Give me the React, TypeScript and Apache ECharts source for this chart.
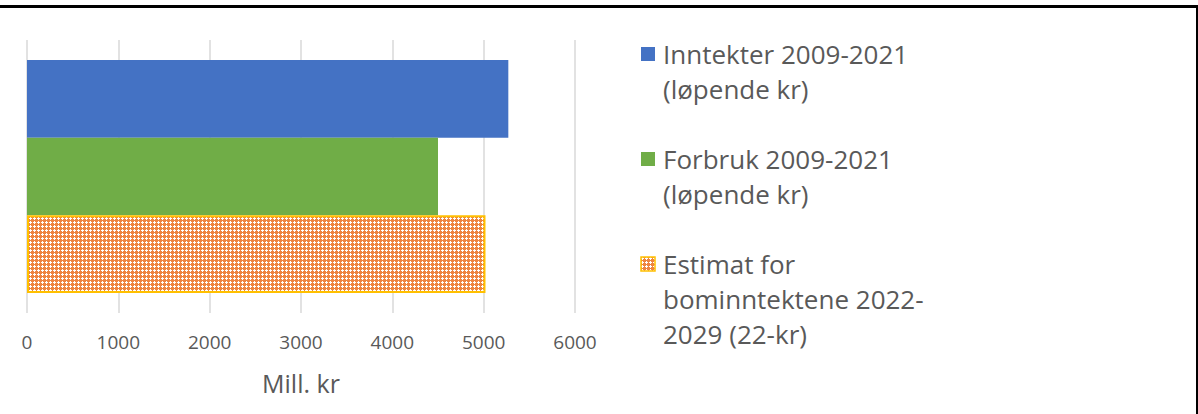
import React, { useEffect, useRef } from "react";
import * as echarts from "echarts";

const categories = ["Bompenger"];
const seriesNames = [
  "Inntekter 2009-2021\n(løpende kr)",
  "Forbruk 2009-2021\n(løpende kr)",
  "Estimat for\nbominntektene 2022-\n2029 (22-kr)",
];
const inntekter = [5270];
const forbruk = [4500];
const estimat = [5020];
const xTicks = { min: 0, max: 6000, interval: 1000 };
const xAxisName = "Mill. kr";

const FONT = "'Open Sans', 'Noto Sans', sans-serif";
const TEXT = "#595959";
const BLUE = "#4472C4";
const GREEN = "#70AD47";
const ORANGE = "#EE8440";
const GOLD = "#FFC000";

function makePattern(): string {
  const c = document.createElement("canvas");
  c.width = 4;
  c.height = 4;
  const ctx = c.getContext("2d")!;
  ctx.fillStyle = ORANGE;
  ctx.fillRect(0, 0, 4, 4);
  ctx.fillStyle = "#FFFFFF";
  const white = [
    [2, 1],
    [1, 2],
    [2, 2],
    [3, 2],
    [2, 3],
  ];
  white.forEach(([x, y]) => ctx.fillRect(x, y, 1, 1));
  return c.toDataURL();
}

export default function App() {
  const ref = useRef<HTMLDivElement>(null);
  useEffect(() => {
    if (!ref.current) return;
    const chart = echarts.init(ref.current, undefined, { renderer: "svg" });
    const patternUrl = makePattern();
    const pattern: any = { image: patternUrl, repeat: "repeat" };

    const legendColors: any[] = [BLUE, GREEN, pattern];
    const legendBorders = [null, null, GOLD];
    const lineH = 35;
    const legendGraphics: any[] = [];
    let y0 = 54;
    seriesNames.forEach((name, i) => {
      const lines = name.split("\n").length;
      legendGraphics.push({
        type: "rect",
        shape: { x: 641, y: y0 - 7, width: 14, height: 14 },
        style: {
          fill: legendColors[i],
          stroke: legendBorders[i] || undefined,
          lineWidth: legendBorders[i] ? 1.5 : 0,
        },
      });
      legendGraphics.push({
        type: "text",
        x: 663,
        y: y0 - lineH / 2,
        style: {
          text: name,
          font: `26px ${FONT}`,
          fill: TEXT,
          lineHeight: lineH,
          verticalAlign: "top",
          align: "left",
        },
      });
      y0 += lines * lineH + lineH;
    });

    chart.setOption({
      animation: false,
      backgroundColor: "#FFFFFF",
      grid: { left: 27, right: 623, top: 40, bottom: 101, containLabel: false },
      xAxis: {
        type: "value",
        min: xTicks.min,
        max: xTicks.max,
        interval: xTicks.interval,
        name: xAxisName,
        nameLocation: "middle",
        nameGap: 57,
        nameTextStyle: { color: TEXT, fontSize: 25, fontFamily: FONT },
        axisLine: { show: false },
        axisTick: { show: false },
        axisLabel: {
          color: TEXT,
          fontSize: 19,
          fontFamily: FONT,
          margin: 19,
          formatter: (v: number) => String(v),
        },
        splitLine: { show: true, lineStyle: { color: "#D9D9D9", width: 1.5 } },
      },
      yAxis: {
        type: "category",
        data: categories,
        inverse: true,
        axisLine: { show: false },
        axisTick: { show: false },
        axisLabel: { show: false },
        splitLine: { show: false },
      },
      series: [
        {
          name: seriesNames[0],
          type: "bar",
          data: inntekter,
          barGap: "0%",
          barCategoryGap: "14.6%",
          itemStyle: { color: BLUE },
        },
        {
          name: seriesNames[1],
          type: "bar",
          data: forbruk,
          barGap: "0%",
          barCategoryGap: "14.6%",
          itemStyle: { color: GREEN },
        },
        {
          name: seriesNames[2],
          type: "bar",
          data: estimat,
          barGap: "0%",
          barCategoryGap: "14.6%",
          itemStyle: { color: pattern, borderColor: GOLD, borderWidth: 2 },
        },
      ],
      graphic: [
        {
          type: "line",
          shape: { x1: 0, y1: 6.5, x2: 1198, y2: 6.5 },
          style: { stroke: "#000000", lineWidth: 3 },
        },
        {
          type: "line",
          shape: { x1: 1197, y1: 5, x2: 1197, y2: 414 },
          style: { stroke: "#000000", lineWidth: 2 },
        },
        ...legendGraphics,
      ],
    });
    return () => chart.dispose();
  }, []);
  return (
    <div
      ref={ref}
      style={{ position: "fixed", left: 0, top: 0, width: 1198, height: 414, background: "#fff" }}
    />
  );
}
